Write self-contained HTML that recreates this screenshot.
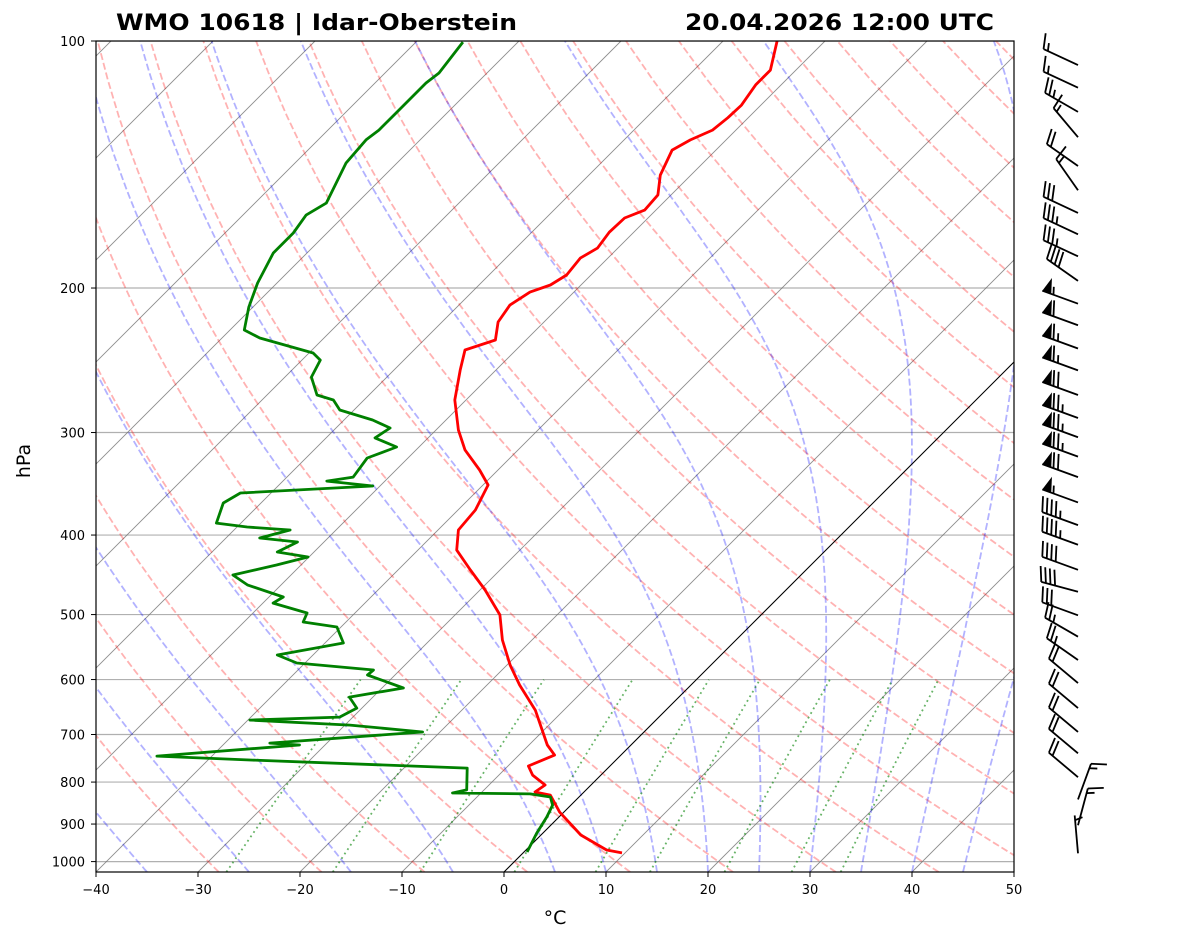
<!DOCTYPE html>
<html><head><meta charset="utf-8"><style>
html,body{margin:0;padding:0;background:#fff;}
svg{display:block;font-family:"DejaVu Sans","Liberation Sans",sans-serif;}
</style></head><body>
<svg id="chart" width="1181" height="941" viewBox="0 0 1181 941" xmlns="http://www.w3.org/2000/svg">
<defs><clipPath id="plotclip"><rect x="96" y="41" width="918" height="831"/></clipPath></defs>
<rect x="0" y="0" width="1181" height="941" fill="#fff"/>
<text x="116" y="30" font-size="22" font-weight="bold" textLength="401" lengthAdjust="spacingAndGlyphs">WMO 10618 | Idar-Oberstein</text>
<text x="685" y="30" font-size="22" font-weight="bold" textLength="309" lengthAdjust="spacingAndGlyphs">20.04.2026 12:00 UTC</text>
<g id="bg" clip-path="url(#plotclip)"></g>
<g id="prof" clip-path="url(#plotclip)"></g>
<rect x="96" y="41" width="918" height="831" fill="none" stroke="#000" stroke-width="1.2"/>
<g id="axes"></g>
<g id="barbs"></g>
<text x="555" y="924" font-size="19" text-anchor="middle">°C</text>
<text x="0" y="0" font-size="19" text-anchor="middle" transform="translate(30,461) rotate(-90)">hPa</text>
</svg>
<script>
// ---- data ----
const tempP = [100,108.5,113,119.7,124,128.4,132,135.8,145.7,154,160.7,164.3,171,178.8,183.9,192.8,198.3,202.3,209.8,220,231.4,238,251.8,273.8,297.9,315,333.3,347.6,372.8,394.4,417.2,441.2,466.7,500.5,537,576,609.3,653.7,721,741.6,764.8,784.4,806.7,822.6,829.7,870.6,928,968,976];
const tempT = [-54.7,-52.5,-52.5,-51.9,-52,-52.3,-53.5,-54.3,-53,-51.3,-51.1,-52.3,-52.4,-52,-52.7,-52.4,-53,-54.3,-55,-54.5,-53,-55,-53.5,-51.1,-47.8,-45.2,-41.8,-39.5,-38.3,-38,-36.2,-32.9,-29.5,-25.6,-22.9,-19.7,-16.8,-12.8,-8.2,-6.5,-8,-6.7,-4.5,-4.8,-3,-0.4,3.9,7.9,9.7];
const dewP = [100.3,109.4,112.5,122.3,128.4,132,140.8,157.6,163,171.4,181.3,197.2,211,225,230.1,240,244.8,256.8,270,273.8,281.6,289.6,296.2,304.6,312.4,322.2,340,343.8,348.6,355.5,365.6,386.8,391.1,394.4,403.3,407.9,419.5,425.4,435.1,447.4,460.1,475.9,484.1,497.8,510.5,517.7,541.5,560,572.8,584.1,592.4,614.4,630.3,650,666.7,672.3,681.8,695.2,717.1,721,743.7,752.1,769.2,817.8,824.8,827.1,834.2,853.3,882.6,923,973.4];
const dewT = [-85.4,-84.7,-85,-85,-85,-85.3,-85,-83,-83.8,-83.3,-83.3,-81.9,-80.4,-78.6,-76.3,-69.6,-68.2,-67.4,-65.1,-63,-61.4,-57.2,-54.7,-55.2,-52.2,-54,-53.5,-55.7,-50.7,-63,-63.7,-62.4,-59,-54.5,-56.7,-52.6,-53.6,-50.1,-52.4,-55.7,-53.3,-48.6,-49,-44.7,-44.2,-40.4,-38.2,-43.5,-40.8,-32.6,-32.7,-27.9,-32.3,-30.5,-31.3,-39.8,-29.5,-21.7,-35.6,-32.5,-45.4,-35.6,-13.8,-11.7,-12.8,-5.1,-2.8,-1.8,-1.2,-0.6,0.3];
const windP = [107,114,122,131,142,152,162,172,183,196,209,222,237,252,270,288,304,321,340,365,389,411,441,469,501,532,568,606,650,695,738,789,840,903,977];
const windSpd = [15,15,25,15,20,15,30,35,35,40,55,60,65,65,70,75,75,75,70,55,45,45,40,40,30,25,25,20,20,20,20,20,15,15,5];
const windDir = [295,295,300,320,305,325,295,295,295,305,290,290,290,290,290,290,290,290,290,290,290,290,290,285,290,300,305,310,310,310,310,310,20,15,355];
const xTicks = [-40,-30,-20,-10,0,10,20,30,40,50];
const yTicks = [100,200,300,400,500,600,700,800,900,1000];
const dryT0 = [-30,-20,-10,0,10,20,30,40,50,60,70,80,90,100,110,120,130,140,150,160,170,180,190,200];
const moistT0 = [-40,-35,-25,-15,-5,5,10,15,20,25,30,35,40,45];
const mixW = [0.0004,0.001,0.002,0.004,0.007,0.01,0.016,0.024,0.032];

// ---- axes ----
const NS="http://www.w3.org/2000/svg";
const PBOT=1029.6;
function Y(p){return 41+820.6*Math.log10(p/100);}
function X(T,p){return 96+(T+40)*10.2+(872-Y(p));}
function mk(tag,attrs,parent){const e=document.createElementNS(NS,tag);for(const k in attrs)e.setAttribute(k,attrs[k]);parent.appendChild(e);return e;}
const bg=document.getElementById('bg'),prof=document.getElementById('prof'),axes=document.getElementById('axes'),barbs=document.getElementById('barbs');
function pathFrom(ps,ts){let d='';for(let i=0;i<ps.length;i++){d+=(i?'L':'M')+X(ts[i],ps[i]).toFixed(1)+','+Y(ps[i]).toFixed(1);}return d;}
const pres=[];for(let i=0;i<=80;i++)pres.push(PBOT+(100-PBOT)*i/80);

// horizontal grid
yTicks.forEach(p=>{const l=mk('line',{x1:96,x2:1014,y1:Y(p),y2:Y(p),stroke:'#b0b0b0','stroke-width':1.2},bg);

});
// isotherms
for(let T=-140;T<=50;T+=10){const l=mk('line',{x1:X(T,PBOT),y1:Y(PBOT),x2:X(T,100),y2:Y(100),stroke:'#707070','stroke-width':0.9,'stroke-opacity':0.8},bg);

}
// dry adiabats
dryT0.forEach(t0=>{const th=t0+273.15;const ts=pres.map(p=>th*Math.pow(p/1000,0.2857)-273.15);
const e=mk('path',{d:pathFrom(pres,ts),fill:'none',stroke:'#ff0000','stroke-opacity':0.3,'stroke-width':1.8,'stroke-dasharray':'7,3'},bg);

});
// moist adiabats
function es(Tc){return 6.112*Math.exp(17.67*Tc/(Tc+243.5));}
function dTdp(p,T){const Rd=287.04,Cp=1005.7,Lv=2.501e6,eps=0.622;const rs=eps*es(T-273.15)/(p-es(T-273.15));
return (1/p)*(Rd*T+Lv*rs)/(Cp+Lv*Lv*rs*eps/(Rd*T*T));}
moistT0.forEach(t0=>{let T=t0+273.15,p=PBOT;const ps=[p],ts=[t0];const n=200,dp=(100-PBOT)/n;
for(let i=0;i<n;i++){const k1=dTdp(p,T),k2=dTdp(p+dp/2,T+dp/2*k1),k3=dTdp(p+dp/2,T+dp/2*k2),k4=dTdp(p+dp,T+dp*k3);
T+=dp/6*(k1+2*k2+2*k3+k4);p+=dp;ps.push(p);ts.push(T-273.15);}
const e=mk('path',{d:pathFrom(ps,ts),fill:'none',stroke:'#0000ff','stroke-opacity':0.3,'stroke-width':1.8,'stroke-dasharray':'7,3'},bg);

});
// mixing ratio lines
mixW.forEach(w=>{const ps=[],ts=[];for(let i=0;i<=20;i++){const p=PBOT+(600-PBOT)*i/20;const e=w*p/(0.622+w);const l=Math.log(e/6.112);ps.push(p);ts.push(243.5*l/(17.67-l));}
const e=mk('path',{d:pathFrom(ps,ts),fill:'none',stroke:'#008000','stroke-opacity':0.6,'stroke-width':1.8,'stroke-dasharray':'1.8,3.5'},bg);

});
// zero isotherm
const z=mk('line',{x1:X(0,PBOT),y1:Y(PBOT),x2:X(0,100),y2:Y(100),stroke:'#000','stroke-width':1},bg);



// profiles
const tl=mk('path',{d:pathFrom(tempP,tempT),fill:'none',stroke:'#ff0000','stroke-width':2.8,'stroke-linejoin':'round'},prof);


const dl=mk('path',{d:pathFrom(dewP,dewT),fill:'none',stroke:'#008000','stroke-width':2.8,'stroke-linejoin':'round'},prof);



// ticks & labels
xTicks.forEach(t=>{const x=96+(t+40)*10.2;mk('line',{x1:x,x2:x,y1:872,y2:877,stroke:'#000','stroke-width':1},axes);
const tx=mk('text',{x:x,y:894,'font-size':13,'text-anchor':'middle'},axes);tx.textContent=(t<0?'\u2212'+(-t):t);

});
yTicks.forEach(p=>{const y=Y(p);mk('line',{x1:91,x2:96,y1:y,y2:y,stroke:'#000','stroke-width':1},axes);
const tx=mk('text',{x:85,y:y+5,'font-size':13,'text-anchor':'end'},axes);tx.textContent=p;

});

// wind barbs
const L=38,BX=1078;
windP.forEach((p,i)=>{const d=windDir[i]*Math.PI/180;const ux=Math.sin(d),uy=-Math.cos(d);const nx=-uy,ny=ux;
const y0=Y(p),x0=BX;const tx=x0+ux*L,ty=y0+uy*L;const g=mk('g',{},barbs);


mk('line',{x1:x0,y1:y0,x2:tx,y2:ty,stroke:'#000','stroke-width':1.8},g);
let s=Math.round(windSpd[i]/5)*5;let nf=Math.floor(s/50);s-=nf*50;let nb=Math.floor(s/10);s-=nb*10;let nh=s>=5?1:0;
const H=0.4*L,W=0.25*L,SP=0.125*L;let pos=0;
function pt(a,h,al){return [x0+ux*(L-a)+nx*h+ux*al,y0+uy*(L-a)+ny*h+uy*al];}
for(let k=0;k<nf;k++){const a=pt(pos,0,0),b=pt(pos,H,-W/2),c=pt(pos,0,-W);mk('polygon',{points:a.join(',')+' '+b.join(',')+' '+c.join(','),fill:'#000'},g);pos+=W+SP*0.5;}
for(let k=0;k<nb;k++){const a=pt(pos,0,0),b=pt(pos,H,W/2);mk('line',{x1:a[0],y1:a[1],x2:b[0],y2:b[1],stroke:'#000','stroke-width':1.8},g);pos+=SP;}
if(nh){if(nf+nb===0)pos+=SP;const a=pt(pos,0,0),b=pt(pos,H/2,W/4);mk('line',{x1:a[0],y1:a[1],x2:b[0],y2:b[1],stroke:'#000','stroke-width':1.8},g);}
});
</script>
</body></html>
